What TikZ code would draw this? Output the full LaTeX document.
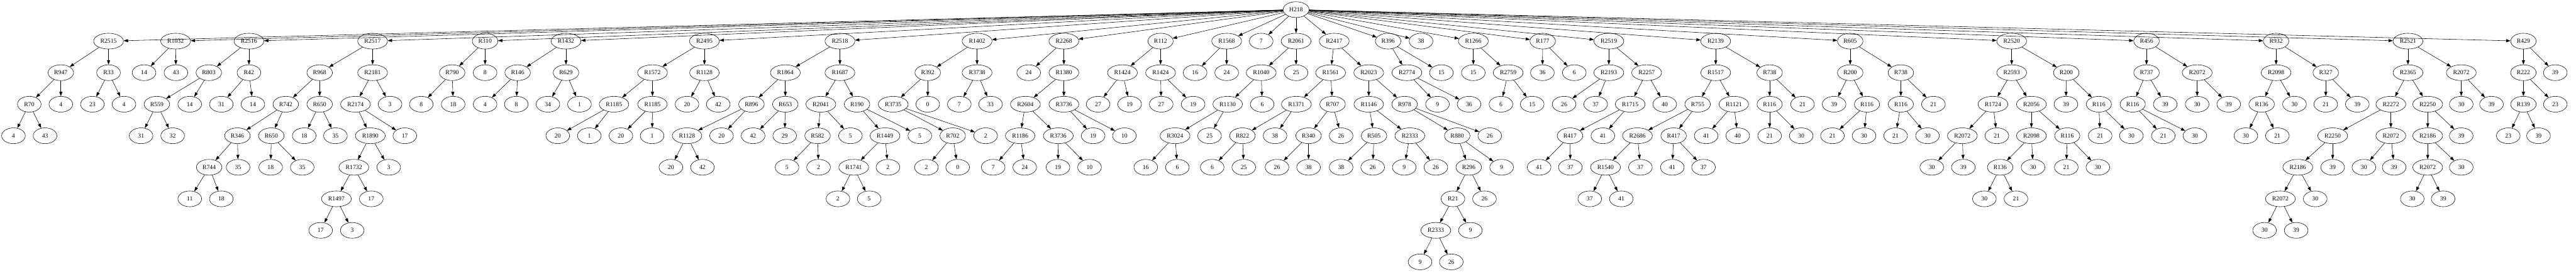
\documentclass[tikz,border=0pt]{standalone}
\usepackage{fontspec}
\setmainfont{Liberation Serif}
\usepackage{tikz}
\usetikzlibrary{shapes.geometric,arrows.meta}

\begin{document}
\begin{tikzpicture}[x=0.75pt,y=-72pt]
        \useasboundingbox (0,-0.305) rectangle (7833,8.309);

        \begin{scope}[every node/.style={ellipse,draw,line width=0.8pt,minimum width=54pt,minimum height=36pt,
            inner xsep=5.4pt,inner ysep=2pt,font=\fontsize{14}{16}\selectfont}]
          \node (0)   at (3941,0) {H218};
          \node (1)   at (330,1)  {R2515};
          \node (2)   at (185,2)  {R947};
          \node (3)   at (89,3)   {R70};
          \node (4)   at (41,4)   {4};
          \node (5)   at (137,4)  {43};
          \node (6)   at (185,3)  {4};
          \node (7)   at (330,2)  {R33};
          \node (8)   at (281,3)  {23};
          \node (9)   at (377,3)  {4};
          \node (10)  at (534,1)  {R1032};
          \node (11)  at (438,2)  {14};
          \node (12)  at (535,2)  {43};
          \node (13)  at (757,1)  {R2516};
          \node (14)  at (635,2)  {R803};
          \node (15)  at (477,3)  {R559};
          \node (16)  at (429,4)  {31};
          \node (17)  at (525,4)  {32};
          \node (18)  at (577,3)  {14};
          \node (19)  at (757,2)  {R42};
          \node (20)  at (673,3)  {31};
          \node (21)  at (769,3)  {14};
          \node (22)  at (1133,1) {R2517};
          \node (23)  at (972,2)  {R968};
          \node (24)  at (869,3)  {R742};
          \node (25)  at (722,4)  {R346};
          \node (26)  at (636,5)  {R744};
          \node (27)  at (577,6)  {11};
          \node (28)  at (673,6)  {18};
          \node (29)  at (724,5)  {35};
          \node (30)  at (825,4)  {R650};
          \node (31)  at (823,5)  {18};
          \node (32)  at (919,5)  {35};
          \node (33)  at (972,3)  {R650};
          \node (34)  at (925,4)  {18};
          \node (35)  at (1020,4) {35};
          \node (36)  at (1133,2) {R2181};
          \node (37)  at (1081,3) {R2174};
          \node (38)  at (1126,4) {R1890};
          \node (39)  at (1076,5) {R1732};
          \node (40)  at (1023,6) {R1497};
          \node (41)  at (975,7)  {17};
          \node (42)  at (1071,7) {3};
          \node (43)  at (1129,6) {17};
          \node (44)  at (1182,5) {3};
          \node (45)  at (1231,4) {17};
          \node (46)  at (1186,3) {3};
          \node (47)  at (1475,1) {R310};
          \node (48)  at (1375,2) {R790};
          \node (49)  at (1281,3) {8};
          \node (50)  at (1378,3) {18};
          \node (51)  at (1475,2) {8};
          \node (52)  at (1721,1) {R1432};
          \node (53)  at (1574,2) {R146};
          \node (54)  at (1475,3) {4};
          \node (55)  at (1570,3) {8};
          \node (56)  at (1721,2) {R629};
          \node (57)  at (1666,3) {34};
          \node (58)  at (1762,3) {1};
          \node (59)  at (2142,1) {R2495};
          \node (60)  at (1984,2) {R1572};
          \node (61)  at (1867,3) {R1185};
          \node (62)  at (1696,4) {20};
          \node (63)  at (1792,4) {1};
          \node (64)  at (1984,3) {R1185};
          \node (65)  at (1888,4) {20};
          \node (66)  at (1983,4) {1};
          \node (67)  at (2142,2) {R1128};
          \node (68)  at (2089,3) {20};
          \node (69)  at (2184,3) {42};
          \node (70)  at (2554,1) {R2518};
          \node (71)  at (2388,2) {R1864};
          \node (72)  at (2285,3) {R896};
          \node (73)  at (2089,4) {R1128};
          \node (74)  at (2040,5) {20};
          \node (75)  at (2136,5) {42};
          \node (76)  at (2194,4) {20};
          \node (77)  at (2388,3) {R653};
          \node (78)  at (2290,4) {42};
          \node (79)  at (2386,4) {29};
          \node (80)  at (2554,2) {R1687};
          \node (81)  at (2496,3) {R2041};
          \node (82)  at (2486,4) {R582};
          \node (83)  at (2393,5) {5};
          \node (84)  at (2489,5) {2};
          \node (85)  at (2586,4) {5};
          \node (86)  at (2606,3) {R190};
          \node (87)  at (2691,4) {R1449};
          \node (88)  at (2596,5) {R1741};
          \node (89)  at (2548,6) {2};
          \node (90)  at (2643,6) {5};
          \node (91)  at (2700,5) {2};
          \node (92)  at (2797,4) {5};
          \node (93)  at (2971,1) {R1402};
          \node (94)  at (2821,2) {R392};
          \node (95)  at (2716,3) {R3735};
          \node (96)  at (2897,4) {R702};
          \node (97)  at (2817,5) {2};
          \node (98)  at (2912,5) {0};
          \node (99)  at (2997,4) {2};
          \node (100) at (2821,3) {0};
          \node (101) at (2971,2) {R3738};
          \node (102) at (2917,3) {7};
          \node (103) at (3012,3) {33};
          \node (104) at (3235,1) {R2268};
          \node (105) at (3128,2) {24};
          \node (106) at (3235,2) {R1380};
          \node (107) at (3118,3) {R2604};
          \node (108) at (3102,4) {R1186};
          \node (109) at (3020,5) {7};
          \node (110) at (3116,5) {24};
          \node (111) at (3218,4) {R3736};
          \node (112) at (3217,5) {19};
          \node (113) at (3313,5) {10};
          \node (114) at (3235,3) {R3736};
          \node (115) at (3324,4) {19};
          \node (116) at (3419,4) {10};
          \node (117) at (3529,1) {R112};
          \node (118) at (3413,2) {R1424};
          \node (119) at (3339,3) {27};
          \node (120) at (3435,3) {19};
          \node (121) at (3529,2) {R1424};
          \node (122) at (3531,3) {27};
          \node (123) at (3628,3) {19};
          \node (124) at (3730,1) {R1568};
          \node (125) at (3634,2) {16};
          \node (126) at (3730,2) {24};
          \node (127) at (3835,1) {7};
          \node (128) at (3941,1) {R2061};
          \node (129) at (3835,2) {R1040};
          \node (130) at (3733,3) {R1130};
          \node (131) at (3573,4) {R3024};
          \node (132) at (3484,5) {16};
          \node (133) at (3580,5) {6};
          \node (134) at (3678,4) {25};
          \node (135) at (3838,3) {6};
          \node (136) at (3941,2) {25};
          \node (137) at (4057,1) {R2417};
          \node (138) at (4046,2) {R1561};
          \node (139) at (3942,3) {R1371};
          \node (140) at (3778,4) {R822};
          \node (141) at (3686,5) {6};
          \node (142) at (3782,5) {25};
          \node (143) at (3877,4) {38};
          \node (144) at (4052,3) {R707};
          \node (145) at (3979,4) {R340};
          \node (146) at (3883,5) {26};
          \node (147) at (3979,5) {38};
          \node (148) at (4078,4) {26};
          \node (149) at (4162,2) {R2023};
          \node (150) at (4162,3) {R1146};
          \node (151) at (4178,4) {R505};
          \node (152) at (4078,5) {38};
          \node (153) at (4174,5) {26};
          \node (154) at (4287,4) {R2333};
          \node (155) at (4270,5) {9};
          \node (156) at (4366,5) {26};
          \node (157) at (4271,3) {R978};
          \node (158) at (4431,4) {R880};
          \node (159) at (4466,5) {R296};
          \node (160) at (4418,6) {R21};
          \node (161) at (4366,7) {R2333};
          \node (162) at (4318,8) {9};
          \node (163) at (4413,8) {26};
          \node (164) at (4471,7) {9};
          \node (165) at (4514,6) {26};
          \node (166) at (4566,5) {9};
          \node (167) at (4530,4) {26};
          \node (168) at (4221,1) {R396};
          \node (169) at (4278,2) {R2774};
          \node (170) at (4371,3) {9};
          \node (171) at (4467,3) {36};
          \node (172) at (4383,2) {15};
          \node (173) at (4321,1) {38};
          \node (174) at (4480,1) {R1266};
          \node (175) at (4480,2) {15};
          \node (176) at (4586,2) {R2759};
          \node (177) at (4564,3) {6};
          \node (178) at (4659,3) {15};
          \node (179) at (4691,1) {R177};
          \node (180) at (4690,2) {36};
          \node (181) at (4787,2) {6};
          \node (182) at (4892,1) {R2519};
          \node (183) at (4892,2) {R2193};
          \node (184) at (4756,3) {26};
          \node (185) at (4852,3) {37};
          \node (186) at (5007,2) {R2257};
          \node (187) at (4957,3) {R1715};
          \node (188) at (4774,4) {R417};
          \node (189) at (4680,5) {41};
          \node (190) at (4775,5) {37};
          \node (191) at (4874,4) {41};
          \node (192) at (5062,3) {40};
          \node (193) at (5217,1) {R2139};
          \node (194) at (5217,2) {R1517};
          \node (195) at (5162,3) {R755};
          \node (196) at (4979,4) {R2686};
          \node (197) at (4882,5) {R1540};
          \node (198) at (4834,6) {37};
          \node (199) at (4930,6) {41};
          \node (200) at (4988,5) {37};
          \node (201) at (5089,4) {R417};
          \node (202) at (5085,5) {41};
          \node (203) at (5180,5) {37};
          \node (204) at (5188,4) {41};
          \node (205) at (5272,3) {R1121};
          \node (206) at (5284,4) {40};
          \node (207) at (5381,2) {R738};
          \node (208) at (5381,3) {R116};
          \node (209) at (5381,4) {21};
          \node (210) at (5477,4) {30};
          \node (211) at (5481,3) {21};
          \node (212) at (5626,1) {R605};
          \node (213) at (5626,2) {R200};
          \node (214) at (5577,3) {39};
          \node (215) at (5677,3) {R116};
          \node (216) at (5572,4) {21};
          \node (217) at (5668,4) {30};
          \node (218) at (5780,2) {R738};
          \node (219) at (5780,3) {R116};
          \node (220) at (5764,4) {21};
          \node (221) at (5861,4) {30};
          \node (222) at (5879,3) {21};
          \node (223) at (6117,1) {R2520};
          \node (224) at (6117,2) {R2593};
          \node (225) at (6060,3) {R1724};
          \node (226) at (5967,4) {R2072};
          \node (227) at (5874,5) {30};
          \node (228) at (5970,5) {39};
          \node (229) at (6072,4) {21};
          \node (230) at (6177,3) {R2056};
          \node (231) at (6177,4) {R2098};
          \node (232) at (6082,5) {R136};
          \node (233) at (6034,6) {30};
          \node (234) at (6130,6) {21};
          \node (235) at (6182,5) {30};
          \node (236) at (6286,4) {R116};
          \node (237) at (6283,5) {21};
          \node (238) at (6379,5) {30};
          \node (239) at (6283,2) {R200};
          \node (240) at (6282,3) {39};
          \node (241) at (6382,3) {R116};
          \node (242) at (6386,4) {21};
          \node (243) at (6481,4) {30};
          \node (244) at (6527,1) {R456};
          \node (245) at (6527,2) {R737};
          \node (246) at (6485,3) {R116};
          \node (247) at (6578,4) {21};
          \node (248) at (6674,4) {30};
          \node (249) at (6584,3) {39};
          \node (250) at (6681,2) {R2072};
          \node (251) at (6681,3) {30};
          \node (252) at (6777,3) {39};
          \node (253) at (6921,1) {R932};
          \node (254) at (6921,2) {R2098};
          \node (255) at (6877,3) {R136};
          \node (256) at (6829,4) {30};
          \node (257) at (6925,4) {21};
          \node (258) at (6977,3) {30};
          \node (259) at (7072,2) {R327};
          \node (260) at (7072,3) {21};
          \node (261) at (7168,3) {39};
          \node (262) at (7322,1) {R2521};
          \node (263) at (7322,2) {R2365};
          \node (264) at (7270,3) {R2272};
          \node (265) at (7093,4) {R2250};
          \node (266) at (6987,5) {R2186};
          \node (267) at (6934,6) {R2072};
          \node (268) at (6886,7) {30};
          \node (269) at (6982,7) {39};
          \node (270) at (7040,6) {30};
          \node (271) at (7093,5) {39};
          \node (272) at (7270,4) {R2072};
          \node (273) at (7188,5) {30};
          \node (274) at (7280,5) {39};
          \node (275) at (7382,3) {R2250};
          \node (276) at (7382,4) {R2186};
          \node (277) at (7382,5) {R2072};
          \node (278) at (7335,6) {30};
          \node (279) at (7429,6) {39};
          \node (280) at (7484,5) {30};
          \node (281) at (7484,4) {39};
          \node (282) at (7484,2) {R2072};
          \node (283) at (7484,3) {30};
          \node (284) at (7576,3) {39};
          \node (285) at (7673,1) {R429};
          \node (286) at (7673,2) {R222};
          \node (287) at (7673,3) {R139};
          \node (288) at (7627,4) {23};
          \node (289) at (7719,4) {39};
          \node (290) at (7770,3) {23};
          \node (291) at (7770,2) {39};
        \end{scope}

        \begin{scope}[every edge/.style={draw,line width=0.8pt,-{Triangle[length=10pt,width=7pt]}}]
          \path (0) edge (1) edge (10) edge (13) edge (22) edge (47) edge (52) edge (59) edge (70) edge (93)
                    edge (104) edge (117) edge (124) edge (127) edge (128) edge (137) edge (168) edge (173)
                    edge (174) edge (179) edge (182) edge (193) edge (212) edge (223) edge (244) edge (253)
                    edge (262) edge (285);
          \path (1)   edge (2)   edge (7);
          \path (2)   edge (3)   edge (6);
          \path (3)   edge (4)   edge (5);
          \path (7)   edge (8)   edge (9);
          \path (10)  edge (11)  edge (12);
          \path (13)  edge (14)  edge (19);
          \path (14)  edge (15)  edge (18);
          \path (15)  edge (16)  edge (17);
          \path (19)  edge (20)  edge (21);
          \path (22)  edge (23)  edge (36);
          \path (23)  edge (24)  edge (33);
          \path (24)  edge (25)  edge (30);
          \path (25)  edge (26)  edge (29);
          \path (26)  edge (27)  edge (28);
          \path (30)  edge (31)  edge (32);
          \path (33)  edge (34)  edge (35);
          \path (36)  edge (37)  edge (46);
          \path (37)  edge (38)  edge (45);
          \path (38)  edge (39)  edge (44);
          \path (39)  edge (40)  edge (43);
          \path (40)  edge (41)  edge (42);
          \path (47)  edge (48)  edge (51);
          \path (48)  edge (49)  edge (50);
          \path (52)  edge (53)  edge (56);
          \path (53)  edge (54)  edge (55);
          \path (56)  edge (57)  edge (58);
          \path (59)  edge (60)  edge (67);
          \path (60)  edge (61)  edge (64);
          \path (61)  edge (62)  edge (63);
          \path (64)  edge (65)  edge (66);
          \path (67)  edge (68)  edge (69);
          \path (70)  edge (71)  edge (80);
          \path (71)  edge (72)  edge (77);
          \path (72)  edge (73)  edge (76);
          \path (73)  edge (74)  edge (75);
          \path (77)  edge (78)  edge (79);
          \path (80)  edge (81)  edge (86);
          \path (81)  edge (82)  edge (85);
          \path (82)  edge (83)  edge (84);
          \path (86)  edge (87)  edge (92);
          \path (87)  edge (88)  edge (91);
          \path (88)  edge (89)  edge (90);
          \path (93)  edge (94)  edge (101);
          \path (94)  edge (95)  edge (100);
          \path (95)  edge (96)  edge (99);
          \path (96)  edge (97)  edge (98);
          \path (101) edge (102) edge (103);
          \path (104) edge (105) edge (106);
          \path (106) edge (107) edge (114);
          \path (107) edge (108) edge (111);
          \path (108) edge (109) edge (110);
          \path (111) edge (112) edge (113);
          \path (114) edge (115) edge (116);
          \path (117) edge (118) edge (121);
          \path (118) edge (119) edge (120);
          \path (121) edge (122) edge (123);
          \path (124) edge (125) edge (126);
          \path (128) edge (129) edge (136);
          \path (129) edge (130) edge (135);
          \path (130) edge (131) edge (134);
          \path (131) edge (132) edge (133);
          \path (137) edge (138) edge (149);
          \path (138) edge (139) edge (144);
          \path (139) edge (140) edge (143);
          \path (140) edge (141) edge (142);
          \path (144) edge (145) edge (148);
          \path (145) edge (146) edge (147);
          \path (149) edge (150) edge (157);
          \path (150) edge (151) edge (154);
          \path (151) edge (152) edge (153);
          \path (154) edge (155) edge (156);
          \path (157) edge (158) edge (167);
          \path (158) edge (159) edge (166);
          \path (159) edge (160) edge (165);
          \path (160) edge (161) edge (164);
          \path (161) edge (162) edge (163);
          \path (168) edge (169) edge (172);
          \path (169) edge (170) edge (171);
          \path (174) edge (175) edge (176);
          \path (176) edge (177) edge (178);
          \path (179) edge (180) edge (181);
          \path (182) edge (183) edge (186);
          \path (183) edge (184) edge (185);
          \path (186) edge (187) edge (192);
          \path (187) edge (188) edge (191);
          \path (188) edge (189) edge (190);
          \path (193) edge (194) edge (207);
          \path (194) edge (195) edge (205);
          \path (195) edge (196) edge (201);
          \path (196) edge (197) edge (200);
          \path (197) edge (198) edge (199);
          \path (201) edge (202) edge (203);
          \path (205) edge (204) edge (206);
          \path (207) edge (208) edge (211);
          \path (208) edge (209) edge (210);
          \path (212) edge (213) edge (218);
          \path (213) edge (214) edge (215);
          \path (215) edge (216) edge (217);
          \path (218) edge (219) edge (222);
          \path (219) edge (220) edge (221);
          \path (223) edge (224) edge (239);
          \path (224) edge (225) edge (230);
          \path (225) edge (226) edge (229);
          \path (226) edge (227) edge (228);
          \path (230) edge (231) edge (236);
          \path (231) edge (232) edge (235);
          \path (232) edge (233) edge (234);
          \path (236) edge (237) edge (238);
          \path (239) edge (240) edge (241);
          \path (241) edge (242) edge (243);
          \path (244) edge (245) edge (250);
          \path (245) edge (246) edge (249);
          \path (246) edge (247) edge (248);
          \path (250) edge (251) edge (252);
          \path (253) edge (254) edge (259);
          \path (254) edge (255) edge (258);
          \path (255) edge (256) edge (257);
          \path (259) edge (260) edge (261);
          \path (262) edge (263) edge (282);
          \path (263) edge (264) edge (275);
          \path (264) edge (265) edge (272);
          \path (265) edge (266) edge (271);
          \path (266) edge (267) edge (270);
          \path (267) edge (268) edge (269);
          \path (272) edge (273) edge (274);
          \path (275) edge (276) edge (281);
          \path (276) edge (277) edge (280);
          \path (277) edge (278) edge (279);
          \path (282) edge (283) edge (284);
          \path (285) edge (286) edge (291);
          \path (286) edge (287) edge (290);
          \path (287) edge (288) edge (289);
        \end{scope}

      \end{tikzpicture}
\end{document}
